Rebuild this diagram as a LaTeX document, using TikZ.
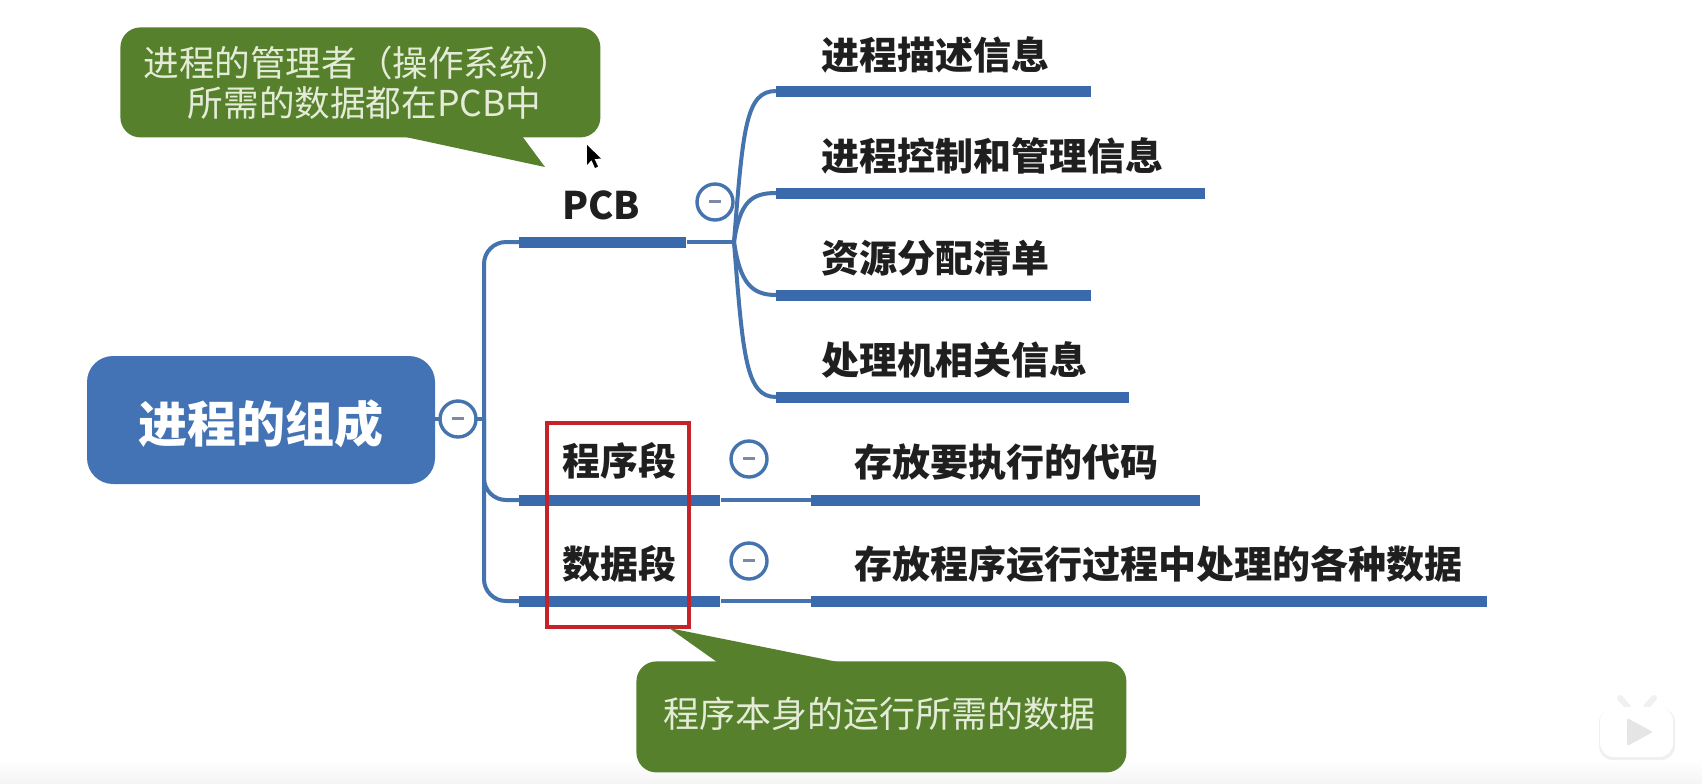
\documentclass[tikz,border=0pt]{standalone}
\usepackage{fontspec}
\setmainfont{Noto Sans CJK SC}
\usetikzlibrary{positioning, calc}
\definecolor{cblue}{HTML}{3A6AAB}
\definecolor{croot}{HTML}{4373B5}
\definecolor{cline}{HTML}{4473AE}
\definecolor{cgreen}{HTML}{56802C}
\definecolor{cnote}{HTML}{E4ECD8}
\definecolor{cred}{HTML}{C4232A}
\definecolor{cgrey}{HTML}{8088A8}
\tikzset{
  bar/.style={fill=cblue, inner sep=0pt, minimum height=5.5pt, minimum width=#1, anchor=west},
  link/.style={draw=cline, line width=2pt},
  item/.style={font=\fontsize{19}{22}\selectfont\bfseries, text=black!88, anchor=west, inner sep=0pt},
  note/.style={fill=cgreen, rounded corners=10pt, inner sep=0pt, text=cnote},
  fold/.style={circle, draw=cline, fill=white, line width=1.7pt, minimum size=18pt, inner sep=0pt},
}
\newcommand{\foldmark}{\textcolor{cgrey}{\rule[0.2pt]{6pt}{1.6pt}}}

\begin{document}
\begin{tikzpicture}[x=0.5pt, y=-0.5pt]
  \useasboundingbox (0,0) rectangle (1702,783);
  % faint strip along the bottom
  \shade[top color=white, bottom color=black!4] (0,760) rectangle (1702,783);
  % bars
  \node[bar=83.5pt] (pcbbar) at (519,242) {};
  \node[bar=100.5pt] (codebar) at (519,500) {};
  \node[bar=100.5pt] (databar) at (519,601) {};
  \node[bar=157.5pt] (descbar) at (776,91) {};
  \node[bar=214.5pt] (ctrlbar) at (776,193) {};
  \node[bar=157.5pt] (resbar) at (776,295) {};
  \node[bar=176.5pt] (cpubar) at (776,397) {};
  \node[bar=194.5pt] (codeitem) at (811,500) {};
  \node[bar=338pt] (dataitem) at (811,601) {};
  % root and fold buttons
  \node[fill=croot, rounded corners=13pt, minimum width=174pt, minimum height=64pt, inner sep=0pt,
    text=white, font=\fontsize{24.5}{28}\selectfont\bfseries] (root) at (261,420) {\raisebox{-11pt}[0pt][0pt]{进程的组成}};
  \coordinate (trunk) at (484,419);
  \coordinate (fan) at (734,242);
  \draw[link] (root.east |- trunk) -- (trunk);
  \draw[link, rounded corners=11pt] (pcbbar.west) -| (trunk) |- (databar.west);
  \draw[link, rounded corners=11pt] (trunk) |- (codebar.west);
  \draw[link] (pcbbar.east) -- (fan);
  \draw[link] (codebar.east) -- (codeitem.west);
  \draw[link] (databar.east) -- (dataitem.west);
  \draw[link] (fan) .. controls +(9,-115) and +(-30,0) .. (descbar.west);
  \draw[link] (fan) .. controls +(6,-40) and +(-25,0) .. (ctrlbar.west);
  \draw[link] (fan) .. controls +(6,40) and +(-25,0) .. (resbar.west);
  \draw[link] (fan) .. controls +(9,115) and +(-30,0) .. (cpubar.west);
  \node[fold] (rootfold) at (458,419) {\foldmark};
  \node[fold] (pcbfold) at (715,202) {\foldmark};
  \node[fold] (codefold) at (749,459) {\foldmark};
  \node[fold] (datafold) at (749,561) {\foldmark};
  % labels
  \node[item] (pcb) at (562,205) {PCB};
  \node[item] (code) at (562,461) {程序段};
  \node[item] (data) at (562,564) {数据段};
  \node[item] (desc) at (821,55) {进程描述信息};
  \node[item] (ctrl) at (821,156) {进程控制和管理信息};
  \node[item] (res) at (821,258) {资源分配清单};
  \node[item] (cpu) at (821,360) {处理机相关信息};
  \node[item] (codetext) at (854,462) {存放要执行的代码};
  \node[item] (datatext) at (854,564) {存放程序运行过程中处理的各种数据};
  % red frame
  \node[draw=cred, line width=2pt, minimum width=71pt, minimum height=102pt, inner sep=0pt] (frame) at (618,525) {};
  % callouts
  \fill[cgreen] (401,136) -- (545,167) -- (522,136) -- cycle;
  \node[note, anchor=north west, minimum width=240pt, minimum height=55pt, text width=217pt, align=left,
    font=\fontsize{17.8}{20}\selectfont] (pcbnote) at (120,27) {\raisebox{-1pt}{进程的管理者（操作系统）}\\\raisebox{-1pt}{\hspace*{1.25em}所需的数据都在PCB中}};
  \fill[cgreen] (717,662) -- (669,628) -- (838,662) -- cycle;
  \node[note, anchor=north west, minimum width=245pt, minimum height=55.5pt, font=\fontsize{18}{20}\selectfont] (datanote) at (636,661) {\raisebox{-5.5pt}[0pt][0pt]{程序本身的运行所需的数据\hspace*{1.5pt}}};
  % mouse pointer
  \fill[black] (587,145) -- (587,165) -- (591.5,160) -- (595,168) -- (598,166.5) -- (594.5,159) -- (601,158.5) -- cycle;
  % player badge
  \draw[black!6, line width=3pt, line cap=round] (1620,698) -- (1628,707) (1654,698) -- (1646,707);
  \fill[black!6, rounded corners=7pt] (1599,708) rectangle (1675,760);
  \fill[white, rounded corners=7pt] (1600,707) rectangle (1673,757);
  \fill[black!10, rounded corners=1pt] (1627,718) -- (1653,732) -- (1627,746) -- cycle;
\end{tikzpicture}
\end{document}
